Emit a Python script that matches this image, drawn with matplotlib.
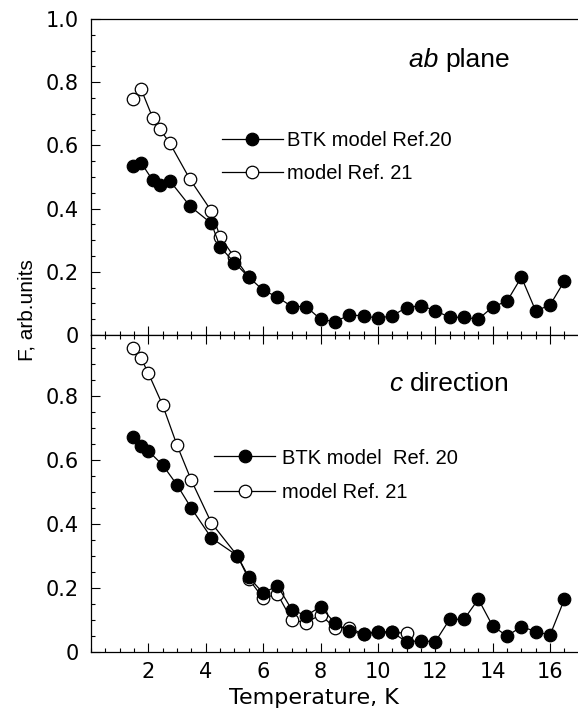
import matplotlib
matplotlib.use('Agg')
import matplotlib.pyplot as plt
import matplotlib.transforms as mtrans
from matplotlib.ticker import MultipleLocator, FixedLocator, FixedFormatter, NullFormatter
from matplotlib.lines import Line2D

# ---------------- data ----------------
# ab plane
T_ab_btk = [1.45, 1.75, 2.15, 2.4, 2.75, 3.45, 4.2, 4.5, 5.0, 5.5, 6.0, 6.5, 7.0, 7.5,
            8.0, 8.5, 9.0, 9.5, 10.0, 10.5, 11.0, 11.5, 12.0, 12.5, 13.0, 13.5, 14.0,
            14.5, 15.0, 15.5, 16.0, 16.5]
F_ab_btk = [0.535, 0.545, 0.49, 0.474, 0.488, 0.408, 0.353, 0.279, 0.229, 0.183, 0.142,
            0.12, 0.09, 0.09, 0.05, 0.042, 0.063, 0.061, 0.053, 0.061, 0.087, 0.093,
            0.077, 0.056, 0.056, 0.05, 0.089, 0.107, 0.183, 0.076, 0.095, 0.171]
T_ab_m21 = [1.45, 1.75, 2.15, 2.4, 2.75, 3.45, 4.2, 4.5, 5.0, 5.5]
F_ab_m21 = [0.746, 0.778, 0.688, 0.652, 0.607, 0.493, 0.392, 0.311, 0.246, 0.183]

# c direction
T_c_btk = [1.45, 1.75, 2.0, 2.5, 3.0, 3.5, 4.2, 5.1, 5.5, 6.0, 6.5, 7.0, 7.5, 8.0, 8.5,
           9.0, 9.5, 10.0, 10.5, 11.0, 11.5, 12.0, 12.5, 13.0, 13.5, 14.0, 14.5, 15.0,
           15.5, 16.0, 16.5]
F_c_btk = [0.673, 0.644, 0.628, 0.584, 0.522, 0.449, 0.356, 0.301, 0.234, 0.184, 0.207,
           0.132, 0.113, 0.142, 0.09, 0.066, 0.055, 0.064, 0.061, 0.032, 0.035, 0.032,
           0.102, 0.102, 0.165, 0.081, 0.05, 0.079, 0.064, 0.053, 0.165]
T_c_m21 = [1.45, 1.75, 2.0, 2.5, 3.0, 3.5, 4.2, 5.1, 5.5, 6.0, 6.5, 7.0, 7.5, 8.0, 8.5,
           9.0, 9.5, 10.0, 10.5, 11.0]
F_c_m21 = [0.95, 0.917, 0.871, 0.771, 0.646, 0.536, 0.403, 0.301, 0.228, 0.168, 0.181,
           0.1, 0.092, 0.116, 0.076, 0.076, 0.055, 0.064, 0.061, 0.059]

x_ticks = [2, 4, 6, 8, 10, 12, 14, 16]
x_ticklabels = ['2', '4', '6', '8', '10', '12', '14', '16']
y_ticks_top = [0, 0.2, 0.4, 0.6, 0.8, 1.0]
y_ticklabels_top = ['0', '0.2', '0.4', '0.6', '0.8', '1.0']
y_ticks_bot = [0, 0.2, 0.4, 0.6, 0.8]
y_ticklabels_bot = ['0', '0.2', '0.4', '0.6', '0.8']

legend_top = ['BTK model Ref.20', 'model Ref. 21']
legend_bot = ['BTK model  Ref. 20', 'model Ref. 21']

# ---------------- layout ----------------
W, H = 578, 722
fig = plt.figure(figsize=(W / 100, H / 100), dpi=100)


def fx(px):
    return px / W


def fy(py):
    return 1 - py / H


left, right = 90.9, 578.0
ax1 = fig.add_axes([fx(left), fy(335), fx(right - left), (335 - 19) / H])
ax2 = fig.add_axes([fx(left), fy(652), fx(right - left), (652 - 335) / H])

TICKFONT = 'DejaVu Sans'
TXTFONT = 'Liberation Sans'
ms = 9
lw = 0.9

for ax in (ax1, ax2):
    ax.set_xlim(0, (right - left) / 28.7)
    ax.xaxis.set_major_locator(FixedLocator(x_ticks))
    ax.xaxis.set_minor_locator(MultipleLocator(0.5))
    ax.yaxis.set_minor_locator(MultipleLocator(0.05))
    ax.spines['right'].set_visible(False)
    for s in ax.spines.values():
        s.set_linewidth(0.9)
    ax.tick_params(which='both', direction='in', width=0.8, right=False)
    ax.tick_params(which='major', length=6.5)
    ax.tick_params(which='minor', length=3.2)
    ax.tick_params(axis='y', which='major', pad=8.5, labelsize=15)
    ax.tick_params(axis='x', which='major', pad=7, labelsize=15)

# top panel
ax1.set_ylim(0, 1.0)
ax1.yaxis.set_major_locator(FixedLocator(y_ticks_top))
ax1.yaxis.set_major_formatter(FixedFormatter(y_ticklabels_top))
ax1.xaxis.set_major_formatter(NullFormatter())
ax1.tick_params(axis='x', which='both', top=False, bottom=True)

ax1.plot(T_ab_m21, F_ab_m21, '-', color='black', lw=lw, marker='o', ms=ms,
         mfc='white', mec='black', mew=0.9, zorder=3)
ax1.plot(T_ab_btk, F_ab_btk, '-', color='black', lw=lw, marker='o', ms=ms,
         mfc='black', mec='black', mew=0.9, zorder=4)

# bottom panel
ax2.set_ylim(0, 0.99)
ax2.yaxis.set_major_locator(FixedLocator(y_ticks_bot))
ax2.yaxis.set_major_formatter(FixedFormatter(y_ticklabels_bot))
ax2.xaxis.set_major_formatter(FixedFormatter(x_ticklabels))
ax2.tick_params(axis='x', which='both', top=True, bottom=True, labeltop=False)

ax2.plot(T_c_m21, F_c_m21, '-', color='black', lw=lw, marker='o', ms=ms,
         mfc='white', mec='black', mew=0.9, zorder=3)
ax2.plot(T_c_btk, F_c_btk, '-', color='black', lw=lw, marker='o', ms=ms,
         mfc='black', mec='black', mew=0.9, zorder=4)

for ax in (ax1, ax2):
    for lab in ax.get_xticklabels() + ax.get_yticklabels():
        lab.set_fontfamily(TICKFONT)

# titles inside panels
t1 = ax1.text((510 - left) / 28.7, 0.849, 'plane', transform=ax1.get_xaxis_transform(),
              ha='right', va='baseline', fontsize=19, family=TXTFONT)
fig.canvas.draw()
bb = t1.get_window_extent()
ax1.text(bb.x0, 0.849, 'ab ', transform=mtrans.blended_transform_factory(
    mtrans.IdentityTransform(), ax1.transAxes),
    ha='right', va='baseline', fontsize=19, family=TXTFONT, style='italic')

t2 = ax2.text((510 - left) / 28.7, 0.824, 'direction', transform=ax2.get_xaxis_transform(),
              ha='right', va='baseline', fontsize=19, family=TXTFONT)
fig.canvas.draw()
bb2 = t2.get_window_extent()
ax2.text(bb2.x0, 0.824, 'c ', transform=mtrans.blended_transform_factory(
    mtrans.IdentityTransform(), ax2.transAxes),
    ha='right', va='baseline', fontsize=19, family=TXTFONT, style='italic')

# legends
h_f = Line2D([], [], color='black', lw=lw, marker='o', ms=ms, mfc='black', mec='black', mew=0.9)
h_o = Line2D([], [], color='black', lw=lw, marker='o', ms=ms, mfc='white', mec='black', mew=0.9)
leg_prop = {'family': TXTFONT, 'size': 14.5}
ax1.legend([h_f, h_o], legend_top, frameon=False, loc='upper left',
           bbox_to_anchor=(fx(221.7), fy(131.5)), bbox_transform=fig.transFigure,
           handlelength=3.03, handletextpad=0.22, borderpad=0, borderaxespad=0,
           labelspacing=0.65, prop=leg_prop)
ax2.legend([h_f, h_o], legend_bot, frameon=False, loc='upper left',
           bbox_to_anchor=(fx(214), fy(448.5)), bbox_transform=fig.transFigure,
           handlelength=3.03, handletextpad=0.33, borderpad=0, borderaxespad=0,
           labelspacing=0.75, prop=leg_prop)

# axis labels
fig.text(fx(314), fy(697.5), 'Temperature, K', ha='center', va='center',
         fontsize=16, family=TICKFONT)
fig.text(fx(27), fy(310), 'F, arb.units', ha='center', va='center', rotation=90,
         fontsize=15, family=TXTFONT)

fig.savefig('out.png', dpi=100)
